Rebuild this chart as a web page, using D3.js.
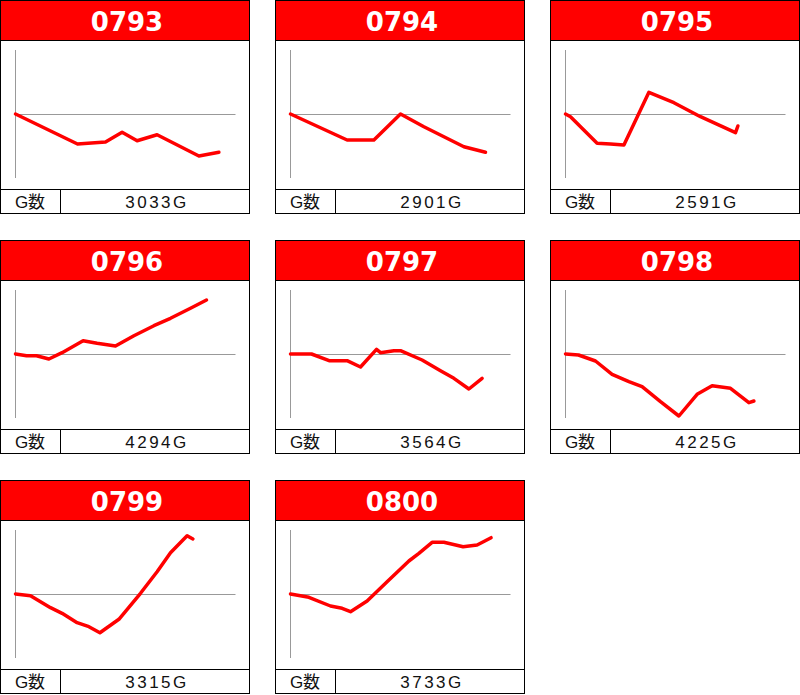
<!DOCTYPE html>
<html>
<head>
<meta charset="utf-8">
<script src="https://cdn.jsdelivr.net/npm/d3@7"></script>
<style>
  html, body { margin: 0; padding: 0; background: #fff; }
  svg { display: block; }
</style>
</head>
<body>
<svg id="chart" width="800" height="695"></svg>
<script>
// ---- data ----
const machines = ["0793", "0794", "0795", "0796", "0797", "0798", "0799", "0800"];
const gameCounts = ["3033G", "2901G", "2591G", "4294G", "3564G", "4225G", "3315G", "3733G"];
const footerLabel = "G数";
// x: progress units (0..1100), y: coin difference
const s0793 = [[0,0],[310,-1500],[450,-1400],[533,-915],[608,-1335],[708,-1035],[917,-2100],[1017,-1915]];
const s0794 = [[0,0],[283,-1300],[417,-1300],[550,0],[667,-635],[767,-1135],[867,-1635],[975,-1915]];
const s0795 = [[0,0],[25,-135],[158,-1465],[225,-1500],[292,-1550],[417,1085],[542,565],[675,-135],[850,-935],[862,-600]];
const s0796 = [[0,0],[55,-85],[105,-85],[167,-250],[233,65],[338,665],[408,535],[500,400],[592,915],[692,1415],[775,1785],[875,2285],[955,2700]];
const s0797 = [[0,0],[105,0],[193,-335],[283,-335],[350,-650],[430,235],[450,65],[517,165],[550,165],[658,-300],[750,-835],[817,-1215],[892,-1750],[958,-1215]];
const s0798 = [[0,0],[65,-50],[150,-350],[233,-1015],[317,-1385],[383,-1635],[475,-2385],[567,-3100],[658,-2015],[733,-1585],[825,-1715],[917,-2435],[942,-2350]];
const s0799 = [[0,0],[75,-85],[175,-685],[233,-965],[308,-1435],[367,-1635],[422,-1935],[517,-1265],[625,35],[708,1115],[775,2065],[858,2915],[887,2750]];
const s0800 = [[0,0],[92,-165],[200,-600],[258,-715],[300,-885],[383,-350],[483,615],[592,1650],[642,2035],[708,2585],[767,2585],[863,2365],[933,2450],[1003,2815]];
const seriesList = [s0793, s0794, s0795, s0796, s0797, s0798, s0799, s0800];
const xDomain = [0, 1100];
const yDomain = [-3200, 3200];

// ---- layout ----
const panelW = 250, panelH = 214, colStep = 275, rowStep = 240;
const headerH = 40, footerTop = 189, divX = 60;

const svg = d3.select("#chart");
const x = d3.scaleLinear().domain(xDomain).range([15.5, 235.5]);
const y = d3.scaleLinear().domain(yDomain).range([178, 50]);
const line = d3.line().x(d => x(d[0])).y(d => y(d[1]));

machines.forEach((m, i) => {
  const col = i % 3, row = Math.floor(i / 3);
  const g = svg.append("g").attr("transform", `translate(${col * colStep},${row * rowStep})`);

  // background
  g.append("rect").attr("x", 0).attr("y", 0).attr("width", panelW).attr("height", panelH).attr("fill", "#fff");
  // header
  g.append("rect").attr("x", 0).attr("y", 0).attr("width", panelW).attr("height", headerH).attr("fill", "#ff0000");
  g.append("line").attr("x1", 0).attr("x2", panelW).attr("y1", headerH + 0.5).attr("y2", headerH + 0.5)
    .attr("stroke", "#000").attr("stroke-width", 1);
  g.append("text").attr("x", panelW / 2 + 2).attr("y", 30.5)
    .attr("text-anchor", "middle")
    .attr("font-family", "'DejaVu Sans', sans-serif").attr("font-weight", "bold").attr("font-size", 26)
    .attr("fill", "#fff").text(m);

  // axes (gray)
  g.append("line").attr("x1", x(xDomain[0])).attr("x2", x(xDomain[0])).attr("y1", y(yDomain[1])).attr("y2", y(yDomain[0]))
    .attr("stroke", "#999").attr("stroke-width", 1);
  g.append("line").attr("x1", x(xDomain[0])).attr("x2", x(xDomain[1])).attr("y1", Math.round(y(0)) + 0.5).attr("y2", Math.round(y(0)) + 0.5)
    .attr("stroke", "#999").attr("stroke-width", 1);

  // series line
  g.append("path").datum(seriesList[i]).attr("d", line)
    .attr("fill", "none").attr("stroke", "#ff0000").attr("stroke-width", 3.5)
    .attr("stroke-linejoin", "round").attr("stroke-linecap", "round");

  // footer
  g.append("line").attr("x1", 0).attr("x2", panelW).attr("y1", footerTop + 0.5).attr("y2", footerTop + 0.5)
    .attr("stroke", "#000").attr("stroke-width", 1);
  g.append("line").attr("x1", divX + 0.5).attr("x2", divX + 0.5).attr("y1", footerTop).attr("y2", panelH)
    .attr("stroke", "#000").attr("stroke-width", 1);
  g.append("text").attr("x", divX / 2).attr("y", 207.5)
    .attr("text-anchor", "middle")
    .attr("font-family", "'Liberation Sans', 'Noto Sans CJK JP', sans-serif").attr("font-size", 17)
    .attr("fill", "#111").text(footerLabel);
  g.append("text").attr("x", (divX + panelW) / 2 + 2).attr("y", 207.5)
    .attr("text-anchor", "middle")
    .attr("font-family", "'Liberation Sans', sans-serif").attr("font-size", 17)
    .attr("letter-spacing", "2.5px")
    .attr("fill", "#111").text(gameCounts[i]);

  // outer border
  g.append("rect").attr("x", 0.5).attr("y", 0.5).attr("width", panelW - 1).attr("height", panelH - 1)
    .attr("fill", "none").attr("stroke", "#000").attr("stroke-width", 1);
});
</script>
</body>
</html>
